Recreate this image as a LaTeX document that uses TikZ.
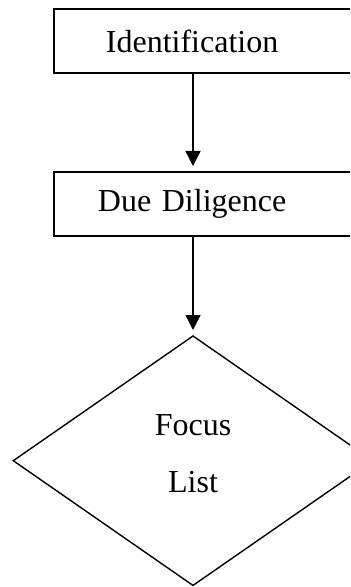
\documentclass[tikz,border=0pt]{standalone}
\usepackage{fontspec}
\setmainfont{Liberation Serif}
\usetikzlibrary{shapes.geometric,arrows.meta}
\tikzstyle{stage}=[rectangle,draw,line width=0.9pt,anchor=north west,minimum height=32pt,text width=150pt,inner xsep=26pt,align=left]
\tikzstyle{decision}=[diamond,draw,line width=0.7pt,anchor=north,minimum width=180pt,minimum height=125pt,inner sep=0pt,align=center,text depth=7pt]
\tikzstyle{flow}=[draw,line width=0.7pt,-{Triangle[length=7.5pt,width=7.5pt]},shorten >=2.5pt]

\begin{document}
\begin{tikzpicture}[x=0.5pt,y=-0.5pt,font=\fontsize{16}{19.5}\selectfont]
	\clip (0,0) rectangle (350,587);
	\coordinate (axis) at (193,0);
	\node[stage] (ident) at (53,8) {Identification};
	\node[stage,inner xsep=22pt] (due) at (53,171) {Due Diligence};
	\node[decision] (focus) at (193,335) {Focus\\[9pt]List};

	\draw[flow] (ident.south west -| axis) -- (due.north west -| axis);
	\draw[flow] (due.south west -| axis) -- (focus.north);
\end{tikzpicture}
\end{document}
